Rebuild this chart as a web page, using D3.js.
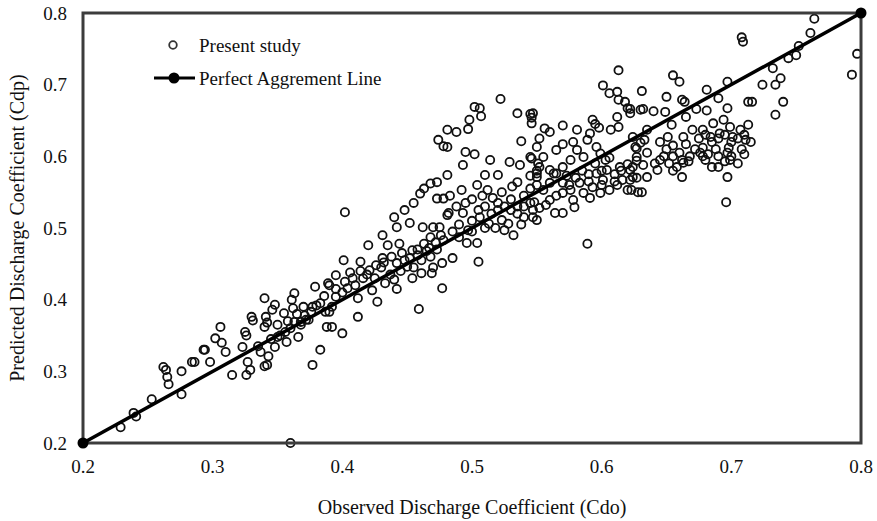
<!DOCTYPE html>
<html>
<head>
<meta charset="utf-8">
<script src="https://cdn.jsdelivr.net/npm/d3@7"></script>
<style>
  body { margin: 0; background: #fff; }
  text { font-family: "Liberation Serif", "Times New Roman", serif; fill: #111; }
</style>
</head>
<body>
<div id="chart"></div>
<script>
// observed (Cdo) vs predicted (Cdp)
const presentStudy = [
  [0.229,0.222],[0.239,0.242],[0.241,0.237],[0.253,0.261],[0.262,0.306],[0.264,0.302],[0.265,0.292],[0.266,0.282],
  [0.276,0.268],[0.276,0.300],[0.284,0.313],[0.293,0.330],
  [0.340,0.402],[0.363,0.409],[0.361,0.400],[0.348,0.393],[0.346,0.386],[0.355,0.381],[0.362,0.388],[0.330,0.376],
  [0.331,0.371],[0.341,0.376],[0.342,0.368],[0.340,0.362],[0.306,0.362],[0.302,0.346],[0.307,0.340],[0.310,0.327],
  [0.294,0.330],[0.298,0.313],[0.286,0.313],[0.325,0.355],[0.326,0.350],[0.323,0.334],[0.327,0.313],[0.329,0.302],
  [0.326,0.295],[0.315,0.295],[0.340,0.307],[0.342,0.309],[0.343,0.321],[0.337,0.327],[0.348,0.334],[0.350,0.348],
  [0.356,0.355],[0.357,0.341],[0.366,0.348],[0.363,0.369],[0.368,0.369],[0.374,0.372],[0.377,0.390],[0.380,0.392],
  [0.376,0.383],[0.387,0.383],[0.388,0.362],[0.383,0.330],[0.377,0.309],[0.392,0.390],[0.379,0.418],[0.389,0.423],
  [0.371,0.378],[0.335,0.335],[0.345,0.345],[0.352,0.350],[0.360,0.360],[0.368,0.365],[0.372,0.372],
  [0.383,0.395],[0.386,0.405],[0.370,0.390],[0.365,0.380],[0.358,0.370],[0.350,0.365],
  [0.360,0.200],[0.402,0.522],
  [0.400,0.353],[0.412,0.376],[0.392,0.362],[0.390,0.383],[0.427,0.397],[0.412,0.402],[0.442,0.415],[0.459,0.387],
  [0.477,0.416],[0.461,0.437],[0.433,0.423],[0.423,0.413],[0.404,0.416],[0.401,0.455],[0.414,0.453],[0.420,0.476],
  [0.431,0.490],[0.442,0.501],[0.452,0.507],[0.462,0.501],[0.468,0.487],[0.475,0.501],[0.435,0.476],[0.444,0.478],
  [0.454,0.469],[0.431,0.458],[0.442,0.451],[0.450,0.446],[0.461,0.455],[0.468,0.460],[0.477,0.451],[0.421,0.441],
  [0.406,0.438],[0.395,0.434],[0.390,0.420],[0.395,0.404],[0.416,0.430],[0.437,0.435],[0.469,0.437],[0.454,0.430],
  [0.430,0.445],[0.445,0.440],[0.455,0.445],[0.470,0.445],[0.425,0.430],[0.410,0.420],[0.400,0.410],
  [0.395,0.415],[0.402,0.425],[0.408,0.430],[0.414,0.440],[0.419,0.435],[0.426,0.448],[0.432,0.452],[0.438,0.460],
  [0.446,0.465],[0.452,0.458],[0.458,0.470],[0.463,0.478],[0.467,0.472],[0.472,0.480],[0.476,0.490],[0.440,0.428],
  [0.448,0.455],[0.458,0.462],[0.465,0.468],[0.473,0.470],
  [0.455,0.535],[0.460,0.548],[0.448,0.525],[0.463,0.555],[0.440,0.515],
  [0.522,0.680],[0.502,0.669],[0.506,0.667],[0.507,0.656],[0.498,0.651],[0.497,0.638],[0.535,0.660],[0.545,0.659],
  [0.546,0.646],[0.481,0.637],[0.488,0.634],[0.474,0.623],[0.478,0.614],[0.481,0.613],[0.538,0.621],[0.495,0.606],
  [0.502,0.603],[0.493,0.588],[0.514,0.595],[0.529,0.592],[0.545,0.599],[0.537,0.588],[0.520,0.574],[0.510,0.574],
  [0.504,0.560],[0.492,0.553],[0.481,0.574],[0.473,0.564],[0.468,0.562],[0.483,0.545],[0.478,0.541],[0.512,0.553],
  [0.516,0.542],[0.523,0.550],[0.531,0.558],[0.535,0.564],[0.545,0.573],[0.550,0.580],[0.551,0.590],[0.520,0.535],
  [0.530,0.540],[0.540,0.545],[0.535,0.530],[0.545,0.555],[0.550,0.560],[0.525,0.530],[0.493,0.521],[0.482,0.521],
  [0.473,0.541],
  [0.505,0.453],[0.485,0.458],[0.532,0.490],[0.525,0.497],[0.504,0.479],[0.496,0.479],[0.547,0.515],[0.540,0.515],
  [0.523,0.511],[0.481,0.518],[0.470,0.501],[0.478,0.483],[0.490,0.487],[0.497,0.497],[0.513,0.506],[0.528,0.506],
  [0.506,0.515],
  [0.500,0.510],[0.505,0.525],[0.510,0.530],[0.515,0.520],[0.520,0.525],[0.530,0.525],[0.535,0.520],[0.540,0.530],
  [0.545,0.535],[0.490,0.505],[0.485,0.495],[0.500,0.540],[0.508,0.545],[0.488,0.530],[0.495,0.535],[0.510,0.500],
  [0.500,0.495],[0.518,0.500],[0.538,0.505],
  [0.613,0.720],[0.601,0.699],[0.606,0.688],[0.612,0.690],[0.613,0.679],[0.618,0.676],[0.620,0.667],[0.622,0.660],
  [0.630,0.665],[0.547,0.660],[0.546,0.654],[0.570,0.643],[0.556,0.639],[0.560,0.634],[0.581,0.637],[0.593,0.651],
  [0.595,0.645],[0.598,0.640],[0.612,0.655],[0.613,0.641],[0.607,0.637],[0.591,0.632],[0.589,0.623],[0.552,0.625],
  [0.550,0.613],[0.555,0.599],[0.546,0.597],[0.565,0.609],[0.570,0.617],[0.578,0.620],[0.581,0.609],[0.576,0.595],
  [0.586,0.599],[0.596,0.613],[0.599,0.604],[0.603,0.595],[0.606,0.598],[0.614,0.585],[0.620,0.589],[0.622,0.581],
  [0.627,0.594],[0.570,0.585],[0.565,0.576],[0.560,0.581],[0.552,0.585],[0.550,0.576],[0.596,0.576],[0.604,0.581],
  [0.630,0.619],[0.627,0.611],
  [0.589,0.478],[0.550,0.511],[0.564,0.521],[0.570,0.521],[0.579,0.529],[0.591,0.542],[0.599,0.549],[0.620,0.553],
  [0.628,0.550],[0.612,0.560],[0.547,0.525],[0.552,0.528],[0.557,0.532],[0.548,0.536],[0.560,0.539],[0.570,0.549],
  [0.576,0.553],[0.583,0.563],[0.570,0.563],[0.560,0.563],[0.555,0.553],[0.578,0.539],[0.586,0.549],[0.593,0.557],
  [0.601,0.567],[0.606,0.553],[0.616,0.567],[0.624,0.571],[0.550,0.571],[0.563,0.576],[0.573,0.573],
  [0.580,0.570],[0.590,0.575],[0.600,0.580],[0.610,0.575],[0.615,0.580],[0.565,0.545],[0.575,0.560],[0.590,0.565],
  [0.600,0.560],[0.610,0.565],[0.595,0.590],[0.585,0.580],
  [0.708,0.766],[0.709,0.760],[0.655,0.713],[0.660,0.704],[0.631,0.691],[0.650,0.683],[0.662,0.679],[0.664,0.676],
  [0.681,0.693],[0.697,0.704],[0.713,0.676],[0.716,0.676],[0.632,0.666],[0.640,0.663],[0.649,0.662],[0.622,0.666],
  [0.654,0.644],[0.635,0.637],[0.690,0.681],[0.697,0.667],[0.681,0.664],[0.673,0.666],[0.665,0.655],[0.713,0.644],
  [0.707,0.637],[0.686,0.646],[0.694,0.651],[0.699,0.641],[0.678,0.637],[0.670,0.637],[0.663,0.627],[0.691,0.632],
  [0.701,0.627],[0.684,0.627],[0.651,0.627],
  [0.696,0.536],[0.697,0.571],[0.685,0.585],[0.631,0.550],[0.623,0.553],[0.622,0.567],[0.627,0.570],[0.635,0.571],
  [0.643,0.581],[0.641,0.590],[0.632,0.588],[0.624,0.585],[0.627,0.599],[0.635,0.605],[0.626,0.613],[0.633,0.623],
  [0.624,0.627],[0.662,0.571],[0.655,0.580],[0.663,0.591],[0.667,0.593],[0.645,0.620],[0.650,0.610],[0.655,0.615],
  [0.660,0.605],[0.648,0.600],[0.655,0.600],[0.662,0.595],[0.668,0.600],[0.672,0.610],[0.665,0.617],[0.645,0.595],
  [0.652,0.590],[0.658,0.585],[0.675,0.625],[0.680,0.630],[0.685,0.620],[0.690,0.625],[0.695,0.630],[0.700,0.620],
  [0.705,0.625],[0.710,0.630],[0.715,0.620],[0.678,0.612],[0.688,0.610],[0.698,0.612],[0.708,0.610],[0.690,0.600],
  [0.700,0.600],[0.695,0.593],[0.710,0.603],[0.682,0.603],[0.680,0.595],[0.705,0.590],[0.690,0.585],[0.711,0.623],
  [0.697,0.605],[0.699,0.595],[0.676,0.605],[0.678,0.600],
  [0.764,0.792],[0.761,0.772],[0.752,0.754],[0.750,0.741],[0.744,0.737],[0.797,0.743],[0.793,0.714],[0.732,0.723],
  [0.738,0.709],[0.724,0.700],[0.734,0.700],[0.740,0.676],[0.734,0.658]
];

// 1:1 line
const agreementLine = [[0.2, 0.2], [0.8, 0.8]];

const xTicks = [0.2, 0.3, 0.4, 0.5, 0.6, 0.7, 0.8];
const yTicks = [0.2, 0.3, 0.4, 0.5, 0.6, 0.7, 0.8];

const width = 877,
      height = 521;
const margin = {top: 13, right: 16, bottom: 78, left: 83};

const svg = d3.select("#chart")
  .append("svg")
    .attr("width", width)
    .attr("height", height);

const x = d3.scaleLinear()
  .domain([0.2, 0.8])
  .range([margin.left, width - margin.right]);

const y = d3.scaleLinear()
  .domain([0.2, 0.8])
  .range([height - margin.bottom, margin.top]);

// tick labels only, no tick marks
svg.append("g")
  .selectAll("text")
  .data(xTicks)
  .join("text")
    .attr("x", d => x(d))
    .attr("y", height - margin.bottom + 30)
    .attr("text-anchor", "middle")
    .style("font-size", "19px")
    .text(d => d.toFixed(1));

svg.append("g")
  .selectAll("text")
  .data(yTicks)
  .join("text")
    .attr("x", margin.left - 16)
    .attr("y", d => y(d))
    .attr("dy", "0.35em")
    .attr("text-anchor", "end")
    .style("font-size", "19px")
    .text(d => d.toFixed(1));

// points
svg.append("g")
  .selectAll("circle")
  .data(presentStudy)
  .join("circle")
    .attr("cx", d => x(d[0]))
    .attr("cy", d => y(d[1]))
    .attr("r", 4.1)
    .attr("fill", "none")
    .attr("stroke", "#111")
    .attr("stroke-width", 1.8);

// plot frame
svg.append("rect")
  .attr("x", x(0.2))
  .attr("y", y(0.8))
  .attr("width", x(0.8) - x(0.2))
  .attr("height", y(0.2) - y(0.8))
  .attr("fill", "none")
  .attr("stroke", "#3c3c3c")
  .attr("stroke-width", 3);

// perfect agreement line
svg.append("path")
  .datum(agreementLine)
  .attr("d", d3.line().x(d => x(d[0])).y(d => y(d[1])))
  .attr("stroke", "#000")
  .attr("stroke-width", 3.5)
  .attr("fill", "none");

svg.append("g")
  .selectAll("circle")
  .data(agreementLine)
  .join("circle")
    .attr("cx", d => x(d[0]))
    .attr("cy", d => y(d[1]))
    .attr("r", 5.5)
    .attr("fill", "#000");

// legend
const legend = svg.append("g");
legend.append("circle")
  .attr("cx", 173).attr("cy", 45).attr("r", 3.8)
  .attr("fill", "none").attr("stroke", "#333").attr("stroke-width", 1.8);
legend.append("text")
  .attr("x", 199).attr("y", 45).attr("dy", "0.35em")
  .style("font-size", "19px")
  .text("Present study");
legend.append("line")
  .attr("x1", 154).attr("x2", 195).attr("y1", 78).attr("y2", 78)
  .attr("stroke", "#000").attr("stroke-width", 3);
legend.append("circle")
  .attr("cx", 174).attr("cy", 78).attr("r", 5.5).attr("fill", "#000");
legend.append("text")
  .attr("x", 199).attr("y", 78).attr("dy", "0.35em")
  .style("font-size", "19px")
  .text("Perfect Aggrement Line");

// axis titles
svg.append("text")
  .attr("x", (x(0.2) + x(0.8)) / 2)
  .attr("y", height - 7)
  .attr("text-anchor", "middle")
  .style("font-size", "20px")
  .text("Observed Discharge Coefficient (Cdo)");

svg.append("text")
  .attr("transform", `translate(24, ${(y(0.2) + y(0.8)) / 2}) rotate(-90)`)
  .attr("text-anchor", "middle")
  .style("font-size", "20px")
  .text("Predicted Discharge Coefficient (Cdp)");
</script>
</body>
</html>
